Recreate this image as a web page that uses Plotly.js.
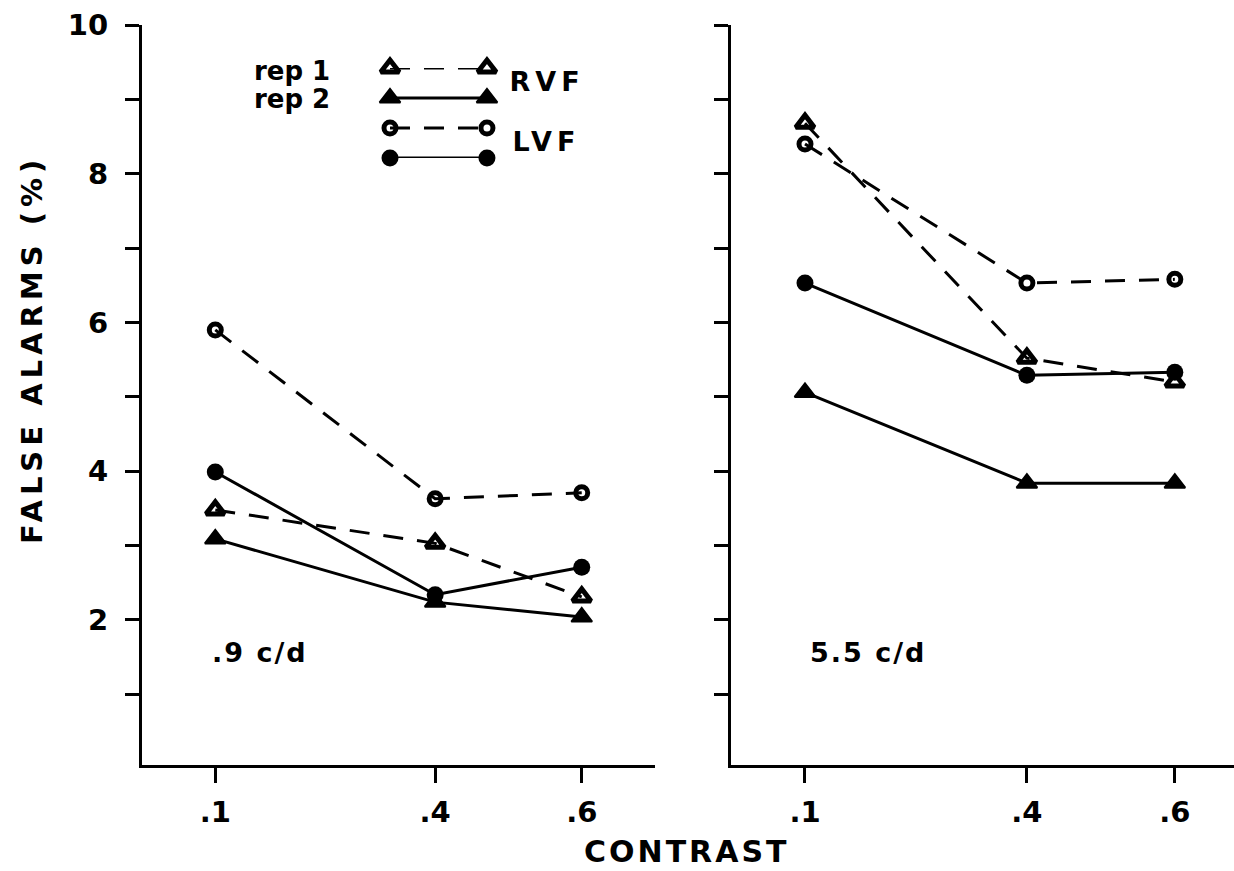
<!DOCTYPE html>
<html>
<head>
<meta charset="utf-8">
<script src="https://cdn.plot.ly/plotly-3.0.1.min.js"></script>
<style>
  html, body { margin: 0; padding: 0; background: #ffffff; }
  #chart { width: 1234px; height: 871px; }
</style>
</head>
<body>
<div id="chart"></div>
<script>
// ---- data ----
const contrast = [0.1, 0.4, 0.6];
const contrastTickText = ['.1', '.4', '.6'];
const yTickVals = [1, 2, 3, 4, 5, 6, 7, 8, 9, 10];
const yTickText = ['', '2', '', '4', '', '6', '', '8', '', '10'];

// .9 c/d panel
const lowRVFrep1 = [3.48, 3.03, 2.31];
const lowRVFrep2 = [3.09, 2.24, 2.04];
const lowLVFrep1 = [5.90, 3.63, 3.71];
const lowLVFrep2 = [3.99, 2.34, 2.71];

// 5.5 c/d panel
const highRVFrep1 = [8.68, 5.52, 5.20];
const highRVFrep2 = [5.06, 3.84, 3.84];
const highLVFrep1 = [8.40, 6.53, 6.58];
const highLVFrep2 = [6.53, 5.29, 5.33];

const panelLabels = ['.9 c/d', '5.5 c/d'];
const repLabels = ['rep 1', 'rep 2'];
const fieldLabels = ['RVF', 'LVF'];

// legend key rows (top to bottom) and key ends
const legendKeyX = [0, 1];
const legendRows = [3, 2, 1, 0];

// ---- styles ----
const INK = '#000000';
const FONT = 'DejaVu Sans';
const DASH = '20px,14px';
const styles = {
  rvf1: { line: { color: INK, width: 3, dash: DASH }, marker: { symbol: 'triangle-up-open', size: 16, color: INK, line: { color: INK, width: 5 } } },
  rvf2: { line: { color: INK, width: 3, dash: 'solid' }, marker: { symbol: 'triangle-up', size: 18, color: INK, line: { color: INK, width: 2 } } },
  lvf1: { line: { color: INK, width: 3, dash: DASH }, marker: { symbol: 'circle-open', size: 12, color: INK, line: { color: INK, width: 5 } } },
  lvf2: { line: { color: INK, width: 3, dash: 'solid' }, marker: { symbol: 'circle', size: 17, color: INK, line: { color: INK, width: 0 } } }
};

function tr(x, y, st, xa, ya) {
  return {
    type: 'scatter', mode: 'lines+markers', x: x, y: y,
    xaxis: xa, yaxis: ya, line: st.line, marker: st.marker,
    showlegend: false, hoverinfo: 'skip', cliponaxis: false
  };
}

const traces = [
  tr(contrast, lowLVFrep1, styles.lvf1, 'x', 'y'),
  tr(contrast, lowRVFrep1, styles.rvf1, 'x', 'y'),
  tr(contrast, lowLVFrep2, styles.lvf2, 'x', 'y'),
  tr(contrast, lowRVFrep2, styles.rvf2, 'x', 'y'),
  tr(contrast, highLVFrep1, styles.lvf1, 'x2', 'y2'),
  tr(contrast, highRVFrep1, styles.rvf1, 'x2', 'y2'),
  tr(contrast, highLVFrep2, styles.lvf2, 'x2', 'y2'),
  tr(contrast, highRVFrep2, styles.rvf2, 'x2', 'y2'),
  // legend keys
  tr(legendKeyX, [legendRows[0], legendRows[0]], styles.rvf1, 'x3', 'y3'),
  tr(legendKeyX, [legendRows[1], legendRows[1]], styles.rvf2, 'x3', 'y3'),
  tr(legendKeyX, [legendRows[2], legendRows[2]], styles.lvf1, 'x3', 'y3'),
  tr(legendKeyX, [legendRows[3], legendRows[3]], styles.lvf2, 'x3', 'y3')
];

const tickFont = { family: FONT, size: 29, color: INK, weight: 'bold' };

function xAxis(domain, range, anchor) {
  return {
    domain: domain, range: range, anchor: anchor,
    showline: true, linecolor: INK, linewidth: 3,
    showgrid: false, zeroline: false,
    ticks: 'outside', ticklen: 15, tickwidth: 3, tickcolor: INK,
    tickvals: contrast, ticktext: contrastTickText,
    tickfont: tickFont, ticklabelstandoff: 4, fixedrange: true
  };
}
function yAxis(anchor, showLabels) {
  return {
    domain: [0, 1], range: [0.05, 10], anchor: anchor,
    showline: true, linecolor: INK, linewidth: 3,
    showgrid: false, zeroline: false,
    ticks: 'outside', ticklen: 14, tickwidth: 3, tickcolor: INK,
    tickvals: yTickVals, ticktext: yTickText,
    showticklabels: showLabels,
    tickfont: tickFont, ticklabelstandoff: 11, fixedrange: true
  };
}

const annFont = (s) => ({ family: FONT, size: s, color: INK, weight: 'bold' });

// letter spacing (px) applied to each annotation, in annotation order
const annSpacing = [5, 3, 2, 2, 0, 0, 5, 5];

const layout = {
  width: 1234, height: 871,
  margin: { l: 142, r: 0, t: 25, b: 106, autoexpand: false },
  paper_bgcolor: '#ffffff', plot_bgcolor: 'rgba(0,0,0,0)',
  showlegend: false,
  xaxis: xAxis([0, 0.4698], [0, 0.7], 'y'),
  yaxis: yAxis('x', true),
  xaxis2: xAxis([0.5394, 1], [0, 0.68], 'y2'),
  yaxis2: yAxis('x2', false),
  xaxis3: { domain: [0.2271, 0.3159], range: [0, 1], anchor: 'y3', visible: false, fixedrange: true },
  yaxis3: { domain: [0.8203, 0.9419], range: [0, 3], anchor: 'x3', visible: false, fixedrange: true },
  annotations: [
    { text: 'FALSE ALARMS (%)', xref: 'paper', yref: 'paper', x: -0.1007, y: 0.5608,
      xanchor: 'center', yanchor: 'middle', textangle: -90, showarrow: false, font: annFont(29) },
    { text: 'CONTRAST', xref: 'paper', yref: 'paper', x: 0.499, y: -0.117,
      xanchor: 'center', yanchor: 'middle', showarrow: false, font: annFont(30) },
    { text: panelLabels[0], xref: 'paper', yref: 'paper', x: 0.108, y: 0.1527,
      xanchor: 'center', yanchor: 'middle', showarrow: false, font: annFont(27) },
    { text: panelLabels[1], xref: 'paper', yref: 'paper', x: 0.665, y: 0.1527,
      xanchor: 'center', yanchor: 'middle', showarrow: false, font: annFont(27) },
    { text: repLabels[0], xref: 'paper', yref: 'paper', x: 0.1007, y: 0.9378,
      xanchor: 'left', yanchor: 'middle', showarrow: false, font: annFont(26) },
    { text: repLabels[1], xref: 'paper', yref: 'paper', x: 0.1007, y: 0.900,
      xanchor: 'left', yanchor: 'middle', showarrow: false, font: annFont(26) },
    { text: fieldLabels[0], xref: 'paper', yref: 'paper', x: 0.3416, y: 0.923,
      xanchor: 'left', yanchor: 'middle', showarrow: false, font: annFont(27) },
    { text: fieldLabels[1], xref: 'paper', yref: 'paper', x: 0.3443, y: 0.8419,
      xanchor: 'left', yanchor: 'middle', showarrow: false, font: annFont(27) }
  ]
};

Plotly.newPlot('chart', traces, layout, { displayModeBar: false, staticPlot: true }).then(function (gd) {
  const groups = gd.querySelectorAll('.annotation');
  groups.forEach(function (g) {
    const idx = +g.getAttribute('data-index');
    const sp = annSpacing[idx] || 0;
    if (!sp) return;
    const t = g.querySelector('text.annotation-text');
    if (t) t.style.letterSpacing = sp + 'px';
  });
});
</script>
</body>
</html>
